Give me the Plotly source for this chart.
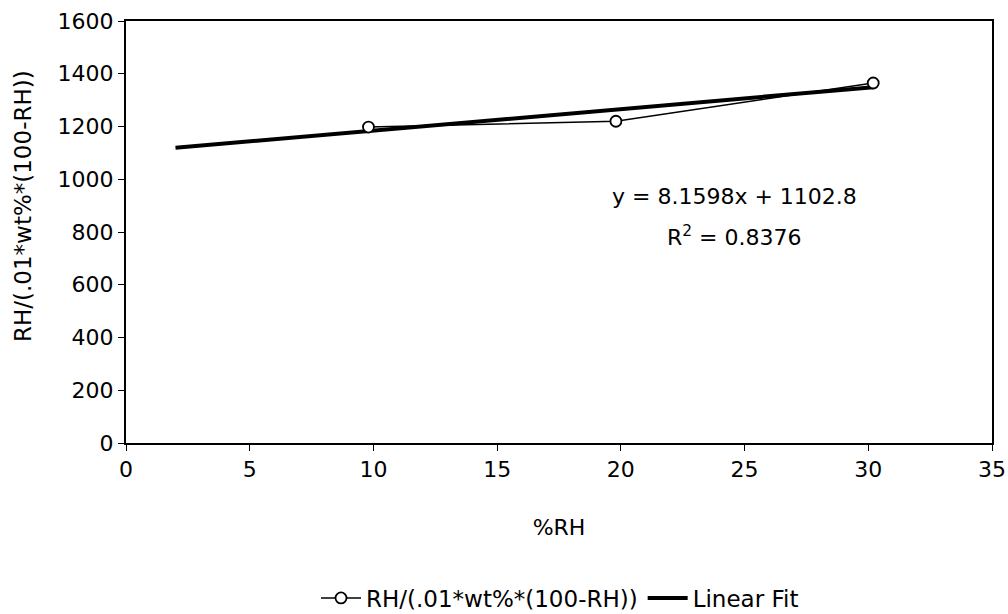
import plotly.graph_objects as go

rh = [9.8, 19.8, 30.2]
ratio = [1198, 1220, 1365]
slope = 8.1598
intercept = 1102.8
r2 = 0.8376
fit_x = [2.0, 30.2]
fit_y = [slope * x + intercept for x in fit_x]

FONT = "DejaVu Sans, Verdana, sans-serif"
FS = 22

fig = go.Figure()
fig.add_trace(go.Scatter(
    x=fit_x, y=fit_y, mode="lines", name="Linear Fit",
    line=dict(color="black", width=4), legendrank=2))
fig.add_trace(go.Scatter(
    x=rh, y=ratio, mode="lines+markers", name="RH/(.01*wt%*(100-RH))",
    line=dict(color="black", width=1.5),
    marker=dict(symbol="circle", size=11, color="white",
                line=dict(color="black", width=1.8)),
    legendrank=1))

fig.add_annotation(
    x=0.703, y=0.585, xref="paper", yref="paper", xanchor="center", yanchor="middle",
    text=f"y = {slope}x + {intercept}",
    showarrow=False, font=dict(family=FONT, size=FS, color="black"))
fig.add_annotation(
    x=0.703, y=0.49, xref="paper", yref="paper", xanchor="center", yanchor="middle",
    text=f"R<sup>2</sup> = {r2}",
    showarrow=False, font=dict(family=FONT, size=FS, color="black"))
# y axis title
fig.add_annotation(
    x=(23 - 126) / 866, y=(443 - 206) / 422, xref="paper", yref="paper",
    xanchor="center", yanchor="middle", textangle=-90,
    text="RH/(.01*wt%*(100-RH))",
    showarrow=False, font=dict(family=FONT, size=23, color="black"))

fig.update_layout(
    width=1008, height=614,
    margin=dict(l=126, r=16, t=21, b=171, autoexpand=False),
    paper_bgcolor="white", plot_bgcolor="white",
    font=dict(family=FONT, size=FS, color="black"),
    showlegend=True,
    legend=dict(orientation="h", x=560 / 1008, xref="container", xanchor="center",
                y=1 - 598 / 614, yref="container", yanchor="middle",
                font=dict(size=23), bgcolor="rgba(0,0,0,0)", itemwidth=40),
)
fig.update_xaxes(
    range=[0, 35], dtick=5, showgrid=False, zeroline=False,
    showline=True, linecolor="black", linewidth=2, mirror=True,
    ticks="outside", ticklen=6, tickcolor="black",
    title=dict(text="%RH", standoff=38, font=dict(size=FS)))
fig.update_yaxes(
    range=[0, 1600], dtick=200, showgrid=False, zeroline=False,
    showline=True, linecolor="black", linewidth=2, mirror=True,
    ticks="outside", ticklen=6, tickcolor="black")

fig.write_html("out.html")
